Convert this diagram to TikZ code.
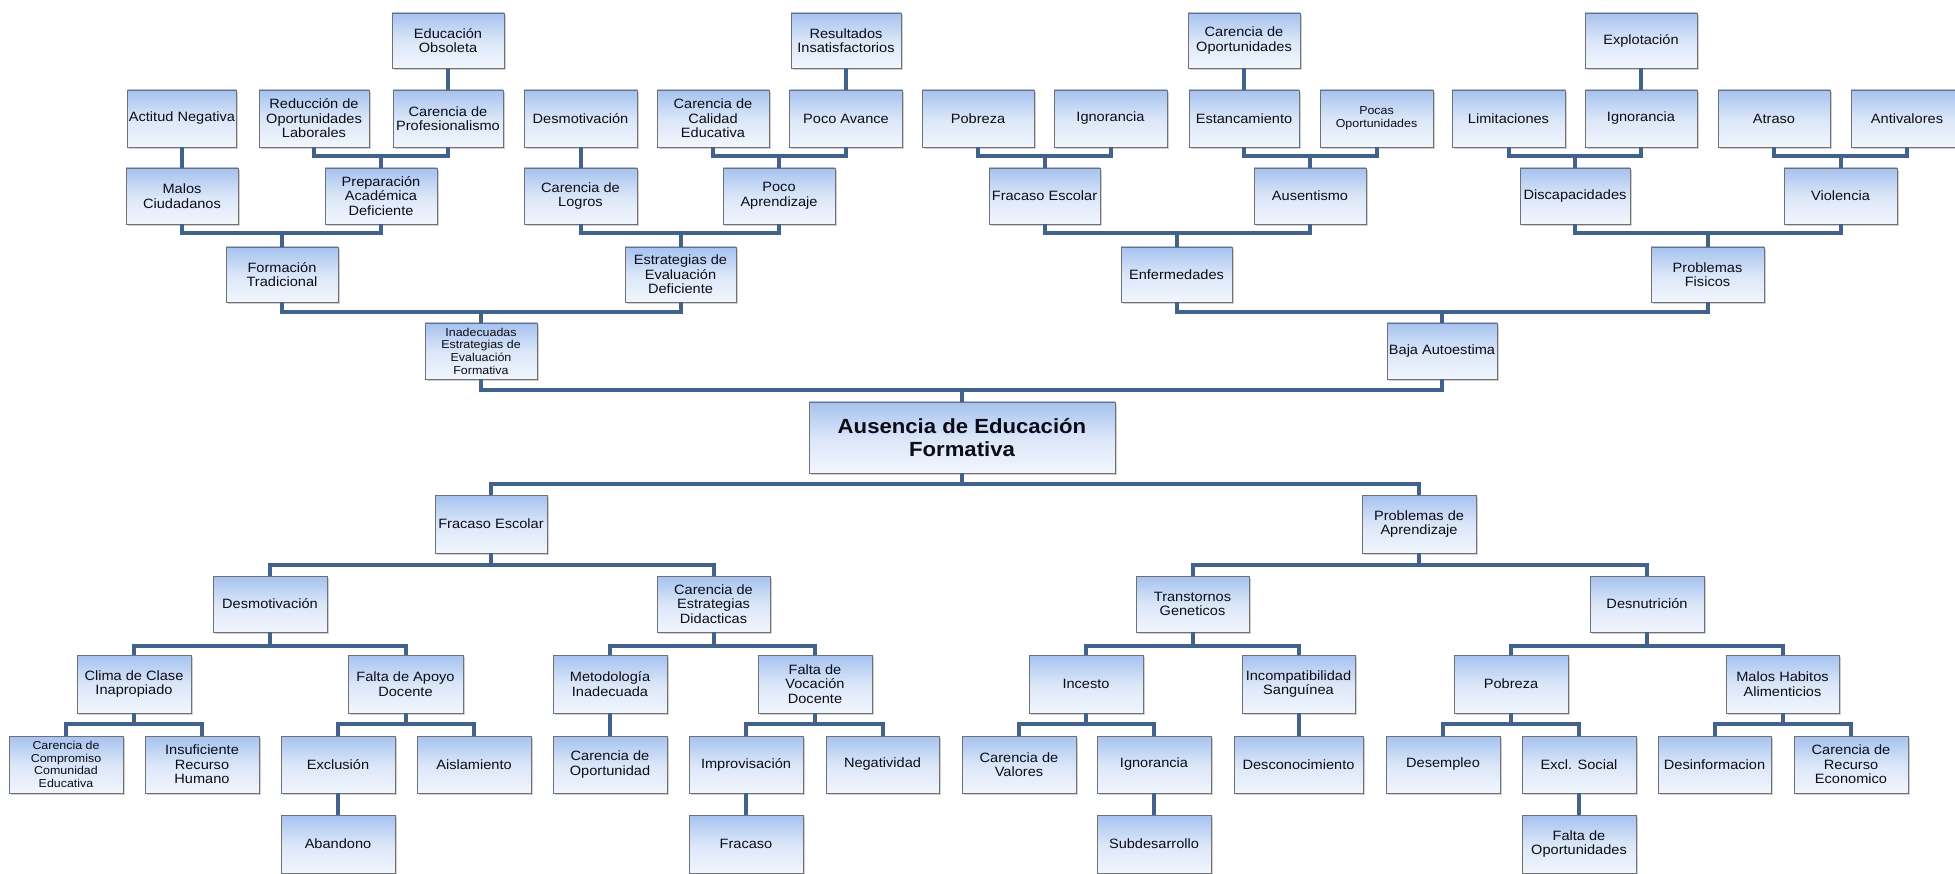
\documentclass[tikz,border=0pt]{standalone}
\usepackage{fontspec}
\setmainfont{Liberation Sans}[FakeStretch=1.08]
\usetikzlibrary{shadows}
\definecolor{bxtop}{HTML}{A6C2EF}
\definecolor{bxmid}{HTML}{DAE6F8}
\definecolor{bxbot}{HTML}{F2F6FD}
\definecolor{bxline}{HTML}{6F7175}
\definecolor{connc}{HTML}{41628B}
\definecolor{txtc}{HTML}{0C0C16}
\tikzset{
  bx/.style={draw=bxline, line width=0.9pt, top color=bxtop, bottom color=bxbot, middle color=bxmid,
    drop shadow={shadow xshift=1.5pt, shadow yshift=-2pt, opacity=0.3, fill=black!60},
    align=center, inner sep=1pt, minimum height=56pt, text=txtc,
    font=\fontsize{13.5}{14.5}\selectfont},
  smalltxt/.style={font=\fontsize{11.5}{12.7}\selectfont},
  rootbx/.style={minimum height=71pt, font=\fontsize{20.5}{22.5}\selectfont\bfseries},
  conn/.style={draw=connc, line width=4pt},
}
\newcommand\bxn[6][]{\node[bx,minimum width=#5pt,#1] (#2) at (#3,#4) {#6};}
\newcommand\upjoin[4]{\draw[conn] (#1.south) |- (#3.north |- #4) -| (#2.south) (#3.north) -- (#3.north |- #4);}
\newcommand\downjoin[4]{\draw[conn] (#2.north) |- (#1.south |- #4) -| (#3.north) (#1.south) -- (#1.south |- #4);}
\newcommand\single[2]{\draw[conn] (#1.south) -- (#2.north);}
\begin{document}
\begin{tikzpicture}[x=1pt,y=-1pt]
\useasboundingbox (0,0) rectangle (1955,874);
\fill[white] (0,0) rectangle (1955,874);
% bar levels
\coordinate (La) at (0,156);
\coordinate (Lb) at (0,233);
\coordinate (Lc) at (0,312);
\coordinate (Ld) at (0,390);
\coordinate (Le) at (0,484);
\coordinate (Lf) at (0,565);
\coordinate (Lg) at (0,646);
\coordinate (Lh) at (0,724);
% ---------- top row 1
\bxn[minimum height=55pt]{eduobs}{448}{40.5}{112}{Educación\\Obsoleta}
\bxn[minimum height=55pt]{resins}{846}{40.5}{110}{Resultados\\Insatisfactorios}
\bxn[minimum height=55pt]{caropo}{1244}{40.5}{112}{Carencia de\\Oportunidades}
\bxn[minimum height=55pt]{explot}{1641}{40.5}{112}{Explotación}
% ---------- top row 2
\bxn[minimum height=57pt]{actneg}{182}{118.5}{109}{Actitud Negativa}
\bxn[minimum height=57pt]{reduc}{314}{118.5}{110}{Reducción de\\Oportunidades\\Laborales}
\bxn[minimum height=57pt]{carprof}{448}{118.5}{110}{Carencia de\\Profesionalismo}
\bxn[minimum height=57pt]{desmota}{580.5}{118.5}{113}{Desmotivación}
\bxn[minimum height=57pt]{carcal}{713}{118.5}{112}{Carencia de\\Calidad\\Educativa}
\bxn[minimum height=57pt]{pocoav}{846}{118.5}{113}{Poco Avance}
\bxn[minimum height=57pt]{pobreza}{978}{118.5}{112}{Pobreza}
\bxn[minimum height=57pt]{ignora}{1110.5}{118.5}{113}{Ignorancia}
\bxn[minimum height=57pt]{estanc}{1244}{118.5}{110}{Estancamiento}
\bxn[minimum height=57pt,smalltxt]{pocas}{1376.5}{118.5}{113}{Pocas\\Oportunidades}
\bxn[minimum height=57pt]{limit}{1508.5}{118.5}{113}{Limitaciones}
\bxn[minimum height=57pt]{ignorb}{1641}{118.5}{112}{Ignorancia}
\bxn[minimum height=57pt]{atraso}{1774}{118.5}{112}{Atraso}
\bxn[minimum height=57pt]{antiv}{1907}{118.5}{112}{Antivalores}
% ---------- top row 3
\bxn{malos}{182}{196}{112}{Malos\\Ciudadanos}
\bxn{prepac}{381}{196}{112}{Preparación\\Académica\\Deficiente}
\bxn{carlog}{580.5}{196}{113}{Carencia de\\Logros}
\bxn{pocoap}{779}{196}{112}{Poco\\Aprendizaje}
\bxn{fracesca}{1044.5}{196}{111}{Fracaso Escolar}
\bxn{ausent}{1310}{196}{112}{Ausentismo}
\bxn{discap}{1575}{196}{110}{Discapacidades}
\bxn{violen}{1840.5}{196}{113}{Violencia}
% ---------- top row 4
\bxn[minimum height=55pt]{formtrad}{282}{274.5}{112}{Formación\\Tradicional}
\bxn[minimum height=55pt]{estrev}{680.5}{274.5}{111}{Estrategias de\\Evaluación\\Deficiente}
\bxn[minimum height=55pt]{enferm}{1176.5}{274.5}{111}{Enfermedades}
\bxn[minimum height=55pt]{probfis}{1707.5}{274.5}{113}{Problemas\\Fisicos}
% ---------- top row 5
\bxn[smalltxt]{inadec}{481}{351}{112}{Inadecuadas\\Estrategias de\\Evaluación\\Formativa}
\bxn{baja}{1442}{351}{110}{Baja Autoestima}
% ---------- root
\bxn[rootbx]{root}{962}{437.5}{306}{Ausencia de Educación\\Formativa}
% ---------- bottom row 1
\bxn[minimum height=58pt]{fracescb}{491}{524}{112}{Fracaso Escolar}
\bxn[minimum height=58pt]{probap}{1419}{524}{114}{Problemas de\\Aprendizaje}
% ---------- bottom row 2
\bxn{desmotb}{270}{604}{114}{Desmotivación}
\bxn{carestr}{713.5}{604}{113}{Carencia de\\Estrategias\\Didacticas}
\bxn{transt}{1192.5}{604}{113}{Transtornos\\Geneticos}
\bxn{desnut}{1647}{604}{114}{Desnutrición}
% ---------- bottom row 3
\bxn[minimum height=58pt]{clima}{134}{684}{114}{Clima de Clase\\Inapropiado}
\bxn[minimum height=58pt]{faltaap}{405.5}{684}{115}{Falta de Apoyo\\Docente}
\bxn[minimum height=58pt]{metod}{610}{684}{114}{Metodología\\Inadecuada}
\bxn[minimum height=58pt]{faltavoc}{815}{684}{114}{Falta de\\Vocación\\Docente}
\bxn[minimum height=58pt]{incesto}{1086}{684}{114}{Incesto}
\bxn[minimum height=58pt]{incomp}{1298.5}{684}{113}{Incompatibilidad\\Sanguínea}
\bxn[minimum height=58pt]{pobrezb}{1511}{684}{114}{Pobreza}
\bxn[minimum height=58pt]{malhab}{1782.5}{684}{113}{Malos Habitos\\Alimenticios}
% ---------- bottom row 4
\bxn[minimum height=57pt,smalltxt]{carcomp}{66}{764.5}{114}{Carencia de\\Compromiso\\Comunidad\\Educativa}
\bxn[minimum height=57pt]{insuf}{202}{764.5}{114}{Insuficiente\\Recurso\\Humano}
\bxn[minimum height=57pt]{exclu}{338}{764.5}{114}{Exclusión}
\bxn[minimum height=57pt]{aisla}{474}{764.5}{114}{Aislamiento}
\bxn[minimum height=57pt]{caropd}{610}{764.5}{114}{Carencia de\\Oportunidad}
\bxn[minimum height=57pt]{improv}{746}{764.5}{114}{Improvisación}
\bxn[minimum height=57pt]{negat}{882.5}{764.5}{113}{Negatividad}
\bxn[minimum height=57pt]{carval}{1019}{764.5}{114}{Carencia de\\Valores}
\bxn[minimum height=57pt]{ignorc}{1154}{764.5}{114}{Ignorancia}
\bxn[minimum height=57pt]{descon}{1298.5}{764.5}{129}{Desconocimiento}
\bxn[minimum height=57pt]{desemp}{1443}{764.5}{114}{Desempleo}
\bxn[minimum height=57pt]{exclsoc}{1579}{764.5}{114}{Excl. Social}
\bxn[minimum height=57pt]{desinf}{1714.5}{764.5}{113}{Desinformacion}
\bxn[minimum height=57pt]{carrec}{1851}{764.5}{114}{Carencia de\\Recurso\\Economico}
% ---------- bottom row 5
\bxn[minimum height=58pt]{abandono}{338}{844}{114}{Abandono}
\bxn[minimum height=58pt]{fracaso}{746}{844}{114}{Fracaso}
\bxn[minimum height=58pt]{subdes}{1154}{844}{114}{Subdesarrollo}
\bxn[minimum height=58pt]{faltaop}{1579}{844}{114}{Falta de\\Oportunidades}
% ---------- connectors top
\single{eduobs}{carprof}
\single{resins}{pocoav}
\single{caropo}{estanc}
\single{explot}{ignorb}
\single{actneg}{malos}
\single{desmota}{carlog}
\upjoin{reduc}{carprof}{prepac}{La}
\upjoin{carcal}{pocoav}{pocoap}{La}
\upjoin{pobreza}{ignora}{fracesca}{La}
\upjoin{estanc}{pocas}{ausent}{La}
\upjoin{limit}{ignorb}{discap}{La}
\upjoin{atraso}{antiv}{violen}{La}
\upjoin{malos}{prepac}{formtrad}{Lb}
\upjoin{carlog}{pocoap}{estrev}{Lb}
\upjoin{fracesca}{ausent}{enferm}{Lb}
\upjoin{discap}{violen}{probfis}{Lb}
\upjoin{formtrad}{estrev}{inadec}{Lc}
\upjoin{enferm}{probfis}{baja}{Lc}
\upjoin{inadec}{baja}{root}{Ld}
% ---------- connectors bottom
\downjoin{root}{fracescb}{probap}{Le}
\downjoin{fracescb}{desmotb}{carestr}{Lf}
\downjoin{probap}{transt}{desnut}{Lf}
\downjoin{desmotb}{clima}{faltaap}{Lg}
\downjoin{carestr}{metod}{faltavoc}{Lg}
\downjoin{transt}{incesto}{incomp}{Lg}
\downjoin{desnut}{pobrezb}{malhab}{Lg}
\downjoin{clima}{carcomp}{insuf}{Lh}
\downjoin{faltaap}{exclu}{aisla}{Lh}
\downjoin{faltavoc}{improv}{negat}{Lh}
\downjoin{incesto}{carval}{ignorc}{Lh}
\downjoin{pobrezb}{desemp}{exclsoc}{Lh}
\downjoin{malhab}{desinf}{carrec}{Lh}
\single{metod}{caropd}
\single{incomp}{descon}
\single{exclu}{abandono}
\single{improv}{fracaso}
\single{ignorc}{subdes}
\single{exclsoc}{faltaop}
\end{tikzpicture}
\end{document}
